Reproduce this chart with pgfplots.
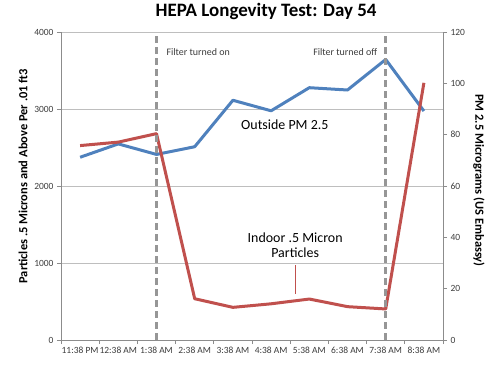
\documentclass[border=0pt]{standalone}
\usepackage{pgfplots}
\pgfplotsset{compat=1.18}
\usepackage{fontspec}
\setmainfont{Carlito}
\definecolor{redl}{RGB}{192,80,77}
\definecolor{bluel}{RGB}{79,129,189}
\definecolor{gridc}{RGB}{190,190,190}
\definecolor{axc}{RGB}{140,140,140}
\definecolor{dashc}{RGB}{150,150,150}
\definecolor{tickt}{RGB}{60,60,60}
\begin{document}
\begin{tikzpicture}
\path[use as bounding box] (0,0) rectangle (500bp,370bp);
% right axis: outside PM 2.5
\begin{axis}[
  at={(61bp,30bp)}, anchor=south west, scale only axis,
  width=382bp, height=308bp,
  xmin=-0.5, xmax=9.5, ymin=0, ymax=120,
  axis x line=none, axis y line*=right,
  ytick={0,20,...,120},
  extra y ticks={30,60,90,120}, extra y tick labels={},
  extra y tick style={grid=major, major tick length=0pt},
  major grid style={gridc, line width=0.8bp},
  axis line style={axc, line width=0.8bp},
  tick style={axc, line width=0.8bp},
  tick align=outside, major tick length=4bp,
  /pgf/number format/assume math mode=true,
  yticklabel style={font=\fontsize{9.5}{10}\selectfont, text=tickt},
  ylabel={\textbf{PM 2.5 Micrograms (US Embassy)}},
  ylabel style={at={(axis description cs:1.094,0.518)}, anchor=center, rotate=180, font=\fontsize{12.5}{14}\selectfont},
  clip=false,
]
\addplot[bluel, line width=3bp, line join=round] coordinates {
  (0,71.2) (1,76.4) (2,72.3) (3,75.3) (4,93.4) (5,89.3) (6,98.3) (7,97.4) (8,109.3) (9,89.2)};
\end{axis}
% left axis: indoor particles
\begin{axis}[
  at={(61bp,30bp)}, anchor=south west, scale only axis,
  width=382bp, height=308bp,
  xmin=-0.5, xmax=9.5, ymin=0, ymax=4000,
  axis x line*=bottom, axis y line*=left,
  ytick={0,1000,...,4000},
  xtick={-0.5,0.5,...,9.5},
  x tick label as interval,
  xticklabels={11:38 PM,12:38 AM,1:38 AM,2:38 AM,3:38 AM,4:38 AM,5:38 AM,6:38 AM,7:38 AM,8:38 AM},
  axis line style={axc, line width=0.8bp},
  tick style={axc, line width=0.8bp},
  tick align=outside, major tick length=4bp,
  /pgf/number format/assume math mode=true,
  /pgf/number format/1000 sep={},
  yticklabel style={font=\fontsize{9.5}{10}\selectfont, text=tickt},
  xticklabel style={font=\fontsize{9.5}{10}\selectfont, text=tickt},
  ylabel={\textbf{Particles .5 Microns and Above Per .01 ft3}},
  ylabel style={at={(axis description cs:-0.0995,0.532)}, anchor=center, font=\fontsize{12.5}{14}\selectfont},
  title={\textbf{HEPA Longevity Test: Day 54}},
  title style={at={(axis description cs:0.537,1)}, anchor=base, yshift=10bp, font=\fontsize{19}{21}\selectfont},
  clip=false,
]
\addplot[redl, line width=3bp, line join=round] coordinates {
  (0,2525) (1,2570) (2,2680) (3,536) (4,424) (5,470) (6,532) (7,433) (8,403) (9,3340)};
\addplot[dashc, line width=3bp, dash pattern=on 7bp off 4bp] coordinates {(2,0) (2,3960)};
\addplot[dashc, line width=3bp, dash pattern=on 7bp off 4bp] coordinates {(8,0) (8,3960)};
\node[anchor=base west, font=\fontsize{10}{12}\selectfont, text=tickt, xshift=6.5bp] at (axis cs:2,3695) {Filter turned on};
\node[anchor=base east, font=\fontsize{10}{12}\selectfont, text=tickt, xshift=-5bp] at (axis cs:8,3695) {Filter turned off};
\node[anchor=base, font=\fontsize{14}{16}\selectfont] at (axis cs:5.36,2740) {Outside PM 2.5};
\node[anchor=base, font=\fontsize{14}{16}\selectfont] at (axis cs:5.63,1264) {Indoor .5 Micron};
\node[anchor=base, font=\fontsize{14}{16}\selectfont] at (axis cs:5.63,1069) {Particles};
\draw[redl, line width=1.5bp] (axis cs:5.64,974) -- (axis cs:5.64,597);
\end{axis}
\end{tikzpicture}
\end{document}
